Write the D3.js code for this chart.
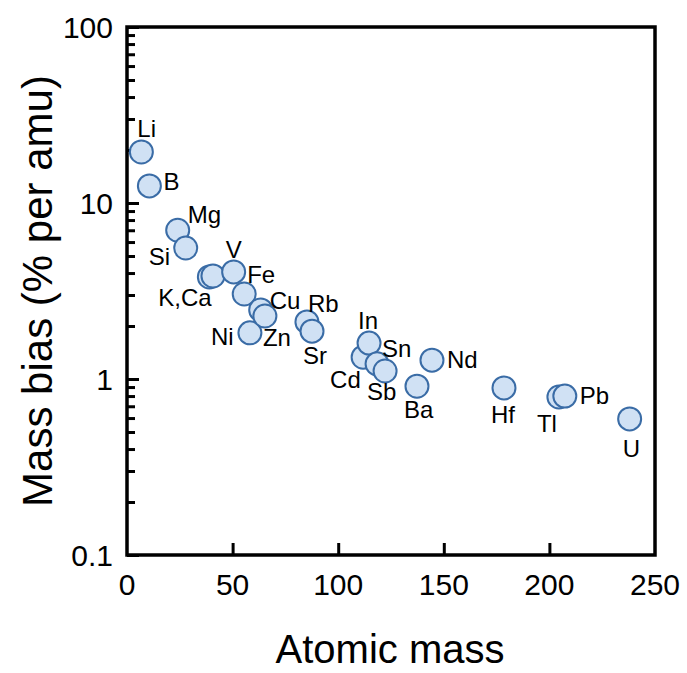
<!DOCTYPE html>
<html>
<head>
<meta charset="utf-8">
<script src="https://cdn.jsdelivr.net/npm/d3@7"></script>
<style>
  html, body { margin: 0; padding: 0; background: #ffffff; }
  svg { display: block; font-family: "Liberation Sans", Arial, sans-serif; }
</style>
</head>
<body>
<svg id="chart" width="687" height="673"></svg>
<script>
// ---- data ----
const elements = ["Li","B","Mg","Si","K","Ca","V","Fe","Ni","Cu","Zn","Rb","Sr","Cd","In","Sn","Sb","Ba","Nd","Hf","Tl","Pb","U"];
const atomicMass = [6.8, 10.6, 24.0, 27.8, 39.0, 40.7, 50.5, 55.5, 58.2, 63.3, 65.3, 85.2, 87.6, 111.8, 114.6, 118.4, 122.2, 137.3, 144.4, 178.5, 204.5, 207.3, 238.0];
const massBias = [19.5, 12.5, 7.0, 5.55, 3.8, 3.85, 4.06, 3.04, 1.83, 2.47, 2.28, 2.11, 1.87, 1.33, 1.60, 1.22, 1.11, 0.91, 1.28, 0.89, 0.79, 0.80, 0.593];
const pointLabels = ["Li","B","Mg","Si","K,Ca","","V","Fe","Ni","Cu","Zn","Rb","Sr","Cd","In","Sn","Sb","Ba","Nd","Hf","Tl","Pb","U"];
const xTicks = [0, 50, 100, 150, 200, 250];
const yTickLabels = ["0.1", "1", "10", "100"];
const yMajor = [0.1, 1, 10, 100];
const xTitle = "Atomic mass";
const yTitle = "Mass bias (% per amu)";

// label offsets (layout, px) relative to each point
const labelOffsets = {
  "Li": [-4, -15], "B": [14, 4], "Mg": [10, -7], "Si": [-37, 17], "K,Ca": [-51, 29],
  "V": [-8, -14], "Fe": [3, -11], "Cu": [9, -1], "Zn": [-2, 30], "Ni": [-39, 12],
  "Rb": [1, -10], "Sr": [-9, 33], "In": [-11, -14], "Cd": [-33, 31], "Sn": [5, -7],
  "Sb": [-18, 29], "Nd": [15, 8], "Ba": [-13, 32], "Hf": [-13, 35], "Tl": [-22, 35],
  "Pb": [15, 8], "U": [-7, 38]
};

const data = elements.map((e, i) => ({ name: e, mass: atomicMass[i], bias: massBias[i], label: pointLabels[i] }));

// ---- layout ----
const pLeft = 127, pRight = 655, pTop = 27, pBottom = 555;
const svg = d3.select("#chart");

const x = d3.scaleLinear().domain([0, 250]).range([pLeft, pRight]);
const y = d3.scaleLog().domain([0.1, 100]).range([pBottom, pTop]);

// minor ticks on y
const minor = [];
for (let dec = 0.1; dec < 100; dec *= 10) {
  for (let k = 2; k <= 9; k++) minor.push(+(dec * k).toPrecision(3));
}

// y axis (ticks inward)
const yAxisMajor = d3.axisRight(y).tickValues(yMajor).tickSize(12).tickFormat("");
const yAxisMinor = d3.axisRight(y).tickValues(minor).tickSize(8).tickFormat("");
const gy1 = svg.append("g").attr("transform", `translate(${pLeft},0)`).call(yAxisMajor);
const gy2 = svg.append("g").attr("transform", `translate(${pLeft},0)`).call(yAxisMinor);
[gy1, gy2].forEach(g => {
  g.select(".domain").remove();
  g.selectAll(".tick line").attr("stroke", "#000").attr("stroke-width", 3);
});

// x axis ticks inward
const xAxis = d3.axisTop(x).tickValues(xTicks.filter(t => t > 0 && t < 250)).tickSize(12).tickFormat("");
const gx = svg.append("g").attr("transform", `translate(0,${pBottom})`).call(xAxis);
gx.select(".domain").remove();
gx.selectAll(".tick line").attr("stroke", "#000").attr("stroke-width", 3);

// frame
svg.append("rect")
  .attr("x", pLeft).attr("y", pTop)
  .attr("width", pRight - pLeft).attr("height", pBottom - pTop)
  .attr("fill", "none").attr("stroke", "#000").attr("stroke-width", 3.5);

// tick labels
svg.append("g").selectAll("text").data(yMajor).join("text")
  .attr("x", pLeft - 14).attr("y", d => y(d))
  .attr("dy", "0.36em")
  .attr("text-anchor", "end")
  .attr("font-size", 30)
  .attr("fill", "#000")
  .text((d, i) => yTickLabels[i]);

svg.append("g").selectAll("text").data(xTicks).join("text")
  .attr("x", d => x(d)).attr("y", pBottom + 40)
  .attr("text-anchor", "middle")
  .attr("font-size", 30)
  .attr("fill", "#000")
  .text(d => d);

// axis titles
svg.append("text")
  .attr("x", (pLeft + pRight) / 2 - 1).attr("y", 663)
  .attr("text-anchor", "middle")
  .attr("font-size", 40)
  .attr("fill", "#000")
  .text(xTitle);

svg.append("text")
  .attr("transform", `translate(52,${(pTop + pBottom) / 2}) rotate(-90)`)
  .attr("text-anchor", "middle")
  .attr("font-size", 42)
  .attr("fill", "#000")
  .text(yTitle);

// points
svg.append("g").selectAll("circle").data(data).join("circle")
  .attr("cx", d => x(d.mass))
  .attr("cy", d => y(d.bias))
  .attr("r", 11.5)
  .attr("fill", "#d0e1f4")
  .attr("stroke", "#3a6ca6")
  .attr("stroke-width", 2);

// labels
svg.append("g").selectAll("text").data(data.filter(d => d.label)).join("text")
  .attr("x", d => x(d.mass) + labelOffsets[d.label][0])
  .attr("y", d => y(d.bias) + labelOffsets[d.label][1])
  .attr("font-size", 24)
  .attr("fill", "#000")
  .text(d => d.label);
</script>
</body>
</html>
